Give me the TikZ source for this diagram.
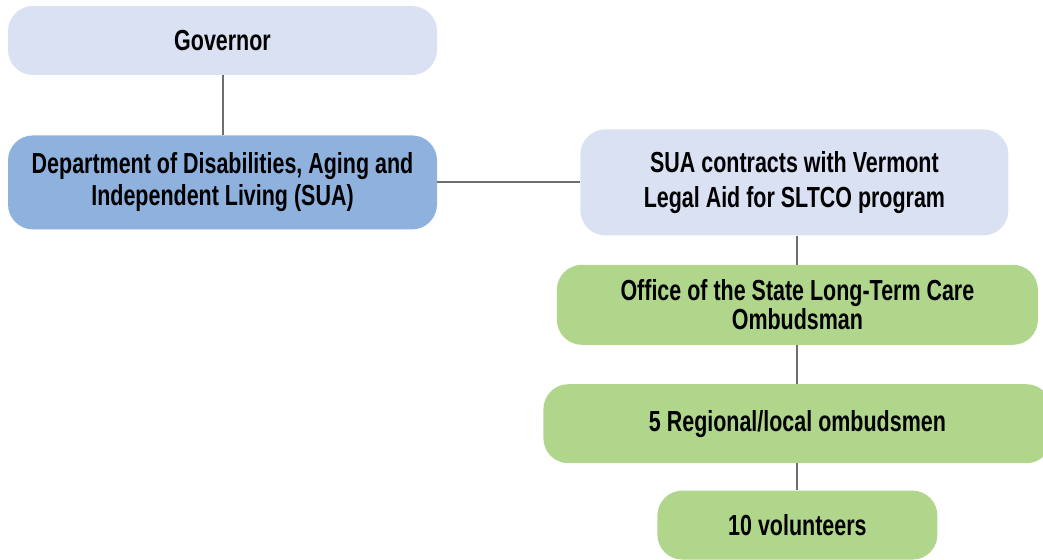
\documentclass[tikz,border=0pt]{standalone}
\usepackage{fontspec}
\setmainfont{Liberation Sans}[FakeStretch=0.74]
\usepackage{xcolor}
\usetikzlibrary{positioning}

\definecolor{paleblue}{HTML}{D9E1F3}
\definecolor{midblue}{HTML}{8EB1DE}
\definecolor{leafgreen}{HTML}{B0D68C}
\definecolor{linkgray}{HTML}{6E6E6E}

\begin{document}
\begin{tikzpicture}[
    x=1pt, y=1pt,
    node distance=60pt and 143pt,
    orgbox/.style={rectangle, rounded corners=25pt, inner sep=0pt, align=center, font=\fontsize{29}{32}\selectfont\bfseries},
    topbox/.style={orgbox, fill=paleblue},
    agency/.style={orgbox, fill=midblue},
    office/.style={orgbox, fill=leafgreen},
    link/.style={draw=linkgray, line width=2pt}
]
\useasboundingbox (0,0) rectangle (1043,-559);

% State level
\node[topbox, minimum width=429pt, minimum height=69pt] (governor) at (222.5,-40.5) {Governor};
\node[agency, minimum width=429pt, minimum height=94pt, below=60pt of governor] (dail) {Department of Disabilities, Aging and\\Independent Living (SUA)};

% Ombudsman program
\node[topbox, minimum width=428pt, minimum height=106pt, right=143pt of dail, font=\fontsize{29}{35}\selectfont\bfseries] (contract) {SUA contracts with Vermont\\Legal Aid for SLTCO program};
\node[office, minimum width=481pt, minimum height=80pt, below=29pt of contract, xshift=3pt, font=\fontsize{29}{29}\selectfont\bfseries] (sltco) {Office of the State Long-Term Care\\Ombudsman};
\node[office, minimum width=508pt, minimum height=79pt, below=39pt of sltco] (regional) {5 Regional/local ombudsmen};
\node[office, minimum width=280pt, minimum height=69pt, below=27pt of regional] (volunteers) {10 volunteers};

% Connectors
\draw[link] (governor) -- (dail);
\draw[link] (dail) -- (contract);
\draw[link] (sltco.north) -- (sltco.north |- contract.south);
\draw[link] (sltco) -- (regional);
\draw[link] (regional) -- (volunteers);

\end{tikzpicture}
\end{document}
